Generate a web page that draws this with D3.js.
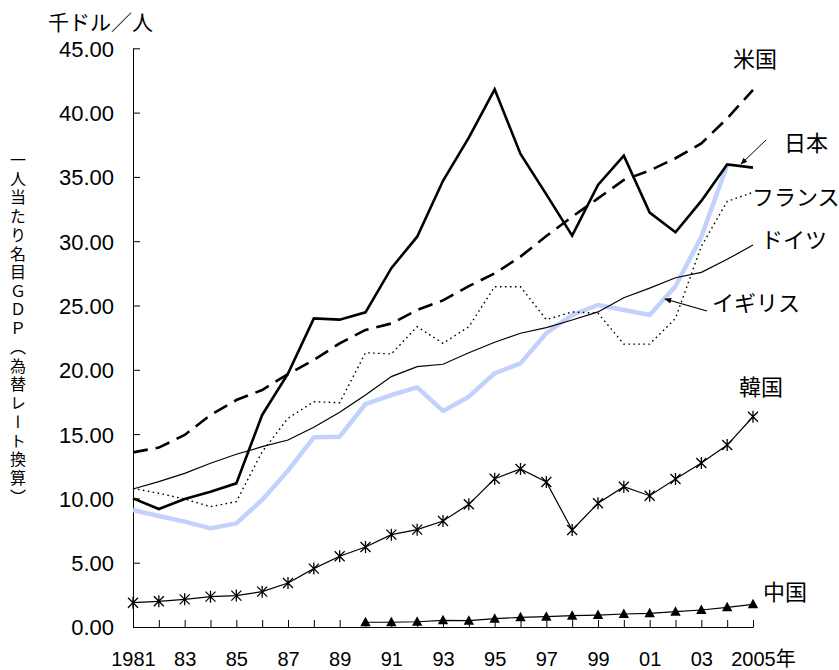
<!DOCTYPE html>
<html><head><meta charset="utf-8">
<script src="https://cdnjs.cloudflare.com/ajax/libs/d3/7.8.5/d3.min.js"></script>
<style>
body{margin:0;background:#fff;}
text{fill:#000;}
</style>
</head><body>
<svg id="chart" width="839" height="670"></svg>
<script>
const years = d3.range(1981, 2006);
const yTicks = [0,5,10,15,20,25,30,35,40,45];
const japan = [10.0, 9.17, 9.95, 10.52, 11.17, 16.49, 19.7, 24.0, 23.9, 24.47, 27.9, 30.35, 34.7, 38.05, 41.81, 36.78, 33.64, 30.43, 34.37, 36.65, 32.22, 30.69, 33.13, 35.97, 35.72];
const us = [13.58, 13.95, 14.93, 16.49, 17.65, 18.43, 19.67, 20.76, 22.06, 23.1, 23.6, 24.65, 25.4, 26.5, 27.5, 28.8, 30.4, 31.9, 33.33, 34.76, 35.5, 36.45, 37.6, 39.55, 41.76];
const france = [10.78, 10.4, 9.95, 9.36, 9.75, 13.63, 16.23, 17.52, 17.44, 21.33, 21.23, 23.35, 22.06, 23.35, 26.46, 26.46, 23.9, 24.5, 24.4, 22.0, 22.0, 24.0, 29.6, 33.1, 33.8];
const germany = [10.73, 11.3, 11.95, 12.73, 13.43, 14.02, 14.54, 15.53, 16.7, 18.04, 19.47, 20.24, 20.43, 21.33, 22.14, 22.84, 23.28, 23.87, 24.5, 25.6, 26.35, 27.16, 27.58, 28.59, 29.7];
const uk = [9.1, 8.63, 8.19, 7.67, 8.06, 9.88, 12.16, 14.75, 14.8, 17.34, 18.04, 18.64, 16.8, 17.91, 19.73, 20.5, 22.84, 24.26, 25.04, 24.65, 24.26, 26.5, 30.35, 35.9, null];
const korea = [1.89, 2.0, 2.15, 2.36, 2.44, 2.75, 3.42, 4.54, 5.5, 6.22, 7.18, 7.57, 8.24, 9.54, 11.53, 12.29, 11.27, 7.54, 9.62, 10.91, 10.21, 11.51, 12.75, 14.15, 16.35];
const chinaYears = d3.range(1990, 2006);
const china = [0.37, 0.37, 0.41, 0.52, 0.49, 0.65, 0.75, 0.8, 0.88, 0.93, 1.01, 1.06, 1.19, 1.32, 1.53, 1.76];

const unitLabel = "千ドル／人";
const yTitle = "一人当たり名目ＧＤＰ（為替レート換算）";
const seriesLabels = [
  {name:"米国", x:733, y:67},
  {name:"日本", x:784, y:151},
  {name:"フランス", x:752, y:205},
  {name:"ドイツ", x:761, y:248},
  {name:"イギリス", x:712, y:311},
  {name:"韓国", x:739, y:395},
  {name:"中国", x:763, y:600}
];

const svg = d3.select("#chart");
const x = d3.scaleLinear().domain([1981, 2005]).range([133, 753]);
const y = d3.scaleLinear().domain([0, 45]).range([627, 48.3]);
const numFont = "'Liberation Sans', Arial, 'Noto Sans CJK JP', sans-serif";
const jpFont = "'Noto Sans CJK JP', sans-serif";

// defs
const defs = svg.append("defs");
defs.append("marker").attr("id","arr").attr("viewBox","0 0 10 10")
  .attr("refX",9).attr("refY",5).attr("markerWidth",7).attr("markerHeight",7)
  .attr("orient","auto").attr("markerUnits","userSpaceOnUse")
  .append("path").attr("d","M0,1 L10,5 L0,9 Z").attr("fill","#000");

// Y axis
const yAxis = svg.append("g").attr("transform","translate(133,0)")
  .call(d3.axisLeft(y).tickValues(yTicks).tickSize(-7).tickSizeOuter(0)
    .tickPadding(19).tickFormat(d3.format(".2f")));
yAxis.selectAll("text").attr("font-family", numFont).attr("font-size", 22).attr("fill","#000").attr("dy","0.36em");
yAxis.selectAll("line,path").attr("stroke","#000");

// X axis
const xLabel = d => (d - 1981) % 2 !== 0 ? "" : (d === 1981 ? String(d) : d === 2005 ? "2005年" : String(d % 100).padStart(2,"0"));
const xAxis = svg.append("g").attr("transform","translate(0,627)")
  .call(d3.axisBottom(x).tickValues(years).tickSize(-7).tickSizeOuter(0).tickFormat(xLabel));
xAxis.selectAll("text").attr("font-family", numFont).attr("font-size", 20).attr("fill","#000").attr("y", 39).attr("dy", 0);
xAxis.selectAll("line,path").attr("stroke","#000");
// "2005" part centred on its tick, "年" hanging to the right
xAxis.selectAll(".tick text").filter(d => d === 2005).each(function(){
  const t = d3.select(this);
  const w = this.getSubStringLength(0, 4);
  t.attr("text-anchor","start").attr("x", -w/2);
});

// lines
const line = (ys, xs) => d3.line().defined((d,i) => d != null)
  .x((d,i) => x(xs[i])).y(d => y(d));

svg.append("path").datum(uk).attr("d", line(uk, years)).attr("fill","none")
  .attr("stroke","#c2d2fc").attr("stroke-width",4.5).attr("stroke-linejoin","round");
svg.append("path").datum(germany).attr("d", line(germany, years)).attr("fill","none")
  .attr("stroke","#000").attr("stroke-width",1.2);
svg.append("path").datum(france).attr("d", line(france, years)).attr("fill","none")
  .attr("stroke","#000").attr("stroke-width",1.4).attr("stroke-dasharray","1.6,3.4");
svg.append("path").datum(us).attr("d", line(us, years)).attr("fill","none")
  .attr("stroke","#000").attr("stroke-width",2.6).attr("stroke-dasharray","15,8");
svg.append("path").datum(japan).attr("d", line(japan, years)).attr("fill","none")
  .attr("stroke","#000").attr("stroke-width",2.6).attr("stroke-linejoin","miter");
svg.append("path").datum(korea).attr("d", line(korea, years)).attr("fill","none")
  .attr("stroke","#000").attr("stroke-width",1.2);
svg.append("path").datum(china).attr("d", line(china, chinaYears)).attr("fill","none")
  .attr("stroke","#000").attr("stroke-width",1.2);

// markers
const s = 5;
svg.append("g").selectAll("path").data(korea).join("path")
  .attr("transform",(d,i) => `translate(${x(years[i])},${y(d)})`)
  .attr("d", `M${-s},${-s}L${s},${s}M${-s},${s}L${s},${-s}M0,${-s-1}L0,${s+1}`)
  .attr("stroke","#000").attr("stroke-width",1.3).attr("fill","none");
svg.append("g").selectAll("path").data(china).join("path")
  .attr("transform",(d,i) => `translate(${x(chinaYears[i])},${y(d)})`)
  .attr("d", "M0,-5.5L5.2,4L-5.2,4Z").attr("fill","#000");

// annotation arrows
svg.append("line").attr("x1",766).attr("y1",140).attr("x2",741).attr("y2",164)
  .attr("stroke","#000").attr("stroke-width",1).attr("marker-end","url(#arr)");
svg.append("line").attr("x1",707).attr("y1",311).attr("x2",665).attr("y2",299)
  .attr("stroke","#000").attr("stroke-width",1.2).attr("marker-end","url(#arr)");

// texts
svg.append("text").attr("x",48).attr("y",30).attr("font-family",jpFont).attr("font-size",21).text(unitLabel);
svg.selectAll("text.slab").data(seriesLabels).join("text").attr("class","slab")
  .attr("x",d => d.x).attr("y",d => d.y).attr("font-family",jpFont).attr("font-size",22).text(d => d.name);
svg.append("text").attr("x",18).attr("y",152).attr("font-family",jpFont).attr("font-size",16)
  .style("writing-mode","vertical-rl").attr("letter-spacing",2.7).text(yTitle);
</script>
</body></html>
